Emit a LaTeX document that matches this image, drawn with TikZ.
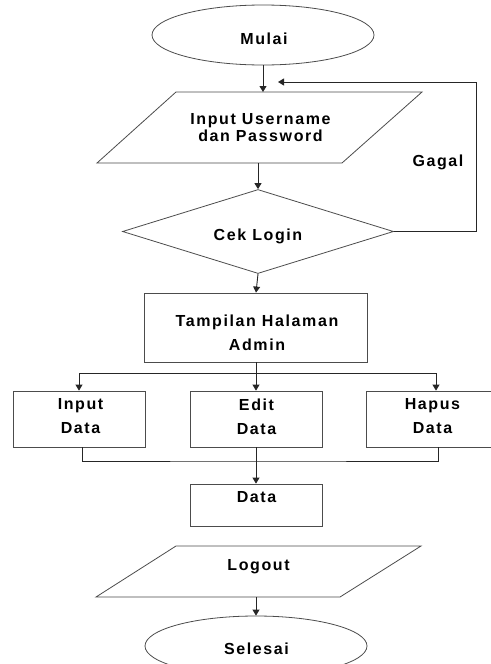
\documentclass[tikz,border=0pt]{standalone}
\usepackage{fontspec}
\setmainfont{Liberation Sans Bold}[LetterSpace=10]
\usetikzlibrary{shapes.geometric,arrows.meta}
\begin{document}
\begin{tikzpicture}[x=1pt,y=-1pt,
  ln/.style={draw=black!85, line width=0.9pt},
  arr/.style={ln, -{Triangle[length=6pt,width=7pt]}},
  shp/.style={draw=black!70, line width=0.8pt, fill=white},
  txt/.style={font=\fontsize{16}{17}\selectfont, align=center, inner sep=0pt},
  txtw/.style={font=\fontsize{16}{24}\selectfont, align=center, inner sep=0pt},
  term/.style={shp, ellipse, minimum width=222pt, minimum height=60pt, inner sep=0pt},
  box/.style={shp, rectangle, minimum width=132pt, minimum height=56pt, inner sep=0pt}]
\useasboundingbox (0,0) rectangle (490,664);
% start
\node[term] (mulai) at (263,35) {};
\node[txt] (mulait) at (264,38.5) {Mulai};
% input
\draw[shp] (176,92) -- (422,92) -- (342,163) -- (97,163) -- cycle;
\coordinate (inTop) at (263,92);
\coordinate (inBot) at (258,163);
\node[txt] (inputt) at (260.5,128) {Input Username\\dan Password};
\draw[arr] (mulai.south) -- (inTop);
% decision
\node[shp, diamond, minimum width=271pt, minimum height=84pt, inner sep=0pt, aspect=3.2] (cek) at (258,231.5) {};
\node[txt] (cekt) at (258,236) {Cek Login};
\draw[arr] (inBot) -- (cek.north);
\coordinate (fbCorner) at (476,82);
\coordinate (fbEnd) at (278,82);
\draw[arr] (cek.east) -| (fbCorner) -- (fbEnd);
\node[txt] (gagal) at (438,162) {Gagal};
% admin
\node[shp, rectangle, minimum width=223pt, minimum height=69pt, inner sep=0pt] (admin) at (256,327.5) {};
\node[txtw] (admint) at (257,333) {Tampilan Halaman\\Admin};
\draw[arr] (cek.south) -- (admin.north);
% three actions
\node[box] (inp) at (79,419) {};
\node[txtw] (inpt) at (80.5,416.5) {Input\\Data};
\node[box] (edit) at (256,419) {};
\node[txtw] (editt) at (256.5,416.5) {Edit\\Data};
\node[box] (hap) at (432,419) {};
\node[txtw] (hapt) at (432.5,416.5) {Hapus\\Data};
\coordinate (br) at (256,373);
\draw[arr] (admin.south) -- (edit.north);
\draw[arr] (br) -| (inp.north);
\draw[arr] (br) -| ([xshift=4pt]hap.north);
\coordinate (mg) at (256,461);
\draw[ln] ([xshift=3pt]inp.south) |- (mg) -| ([xshift=6pt]hap.south);
% data
\node[box, minimum height=42pt] (data) at (256,505) {};
\node[txt] (datat) at (256.5,497) {Data};
\draw[arr] (edit.south) -- (data.north);
% logout
\draw[shp] (176,546) -- (421,546) -- (340,597) -- (96,597) -- cycle;
\coordinate (loBot) at (256,597);
\node[txt] (logoutt) at (258.5,566.5) {Logout};
% end
\node[term] (selesai) at (256,646) {};
\node[txt] (selesait) at (256.5,649) {Selesai};
\draw[arr] (loBot) -- (selesai.north);
\end{tikzpicture}
\end{document}
